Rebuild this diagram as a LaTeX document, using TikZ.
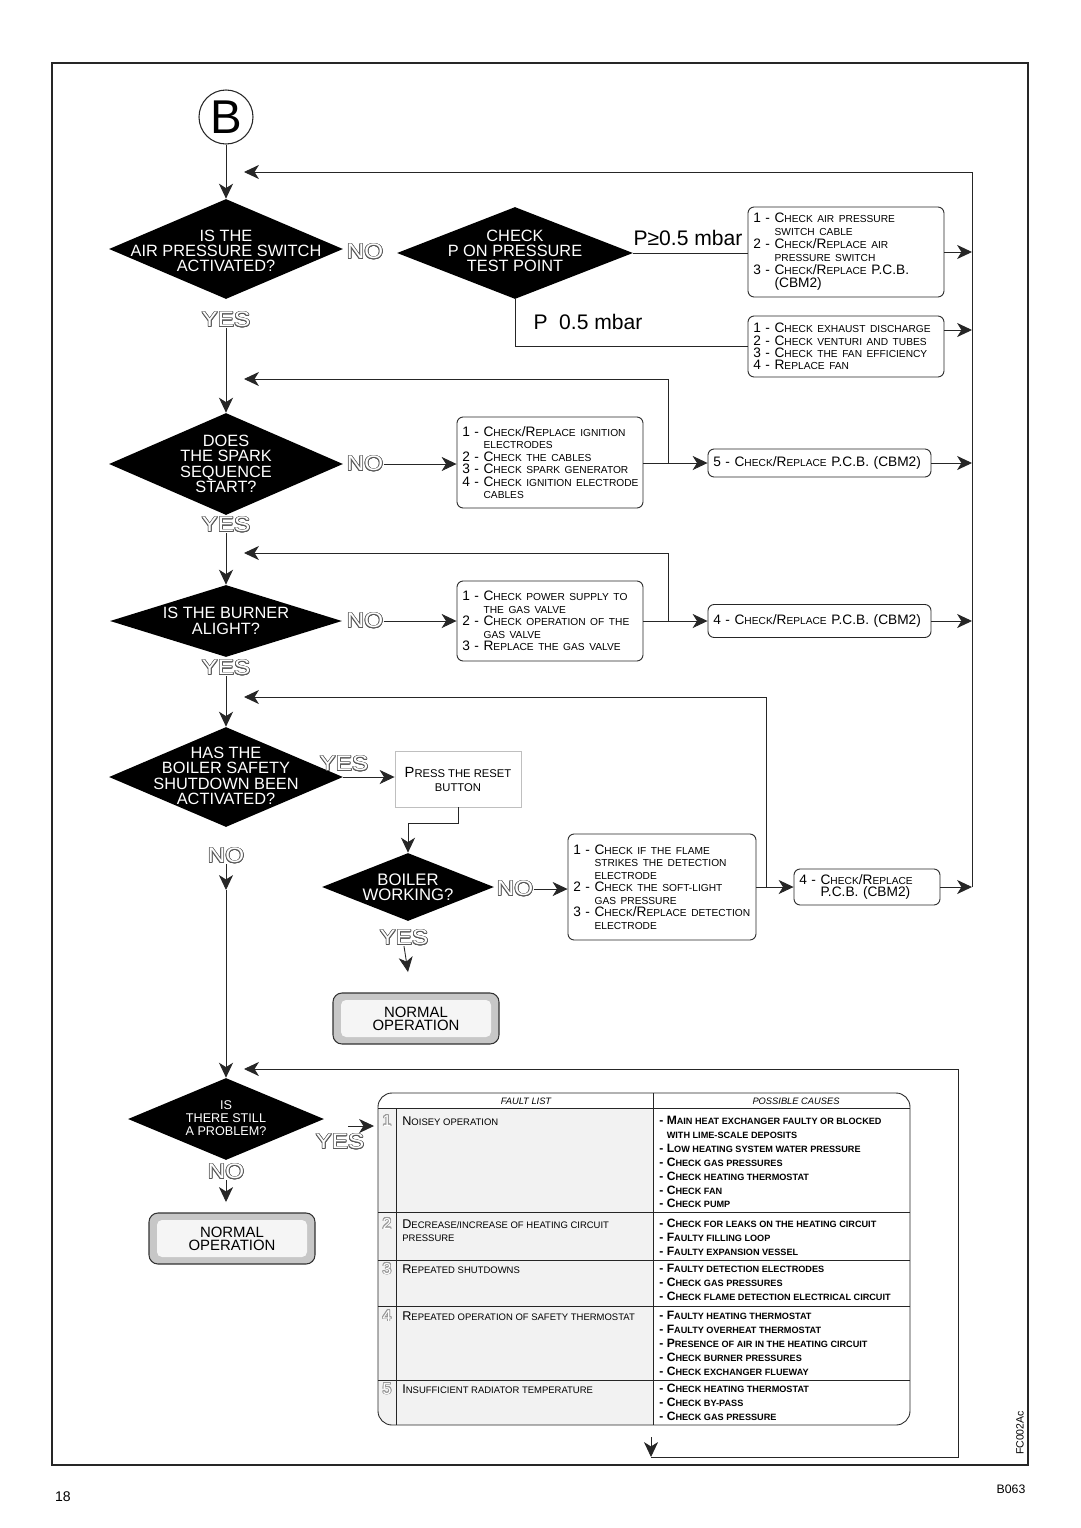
\documentclass[tikz,border=0pt]{standalone}
\usepackage{fontspec}
\setmainfont{Liberation Sans}
\newfontfamily\widefont[FakeStretch=1.15]{Liberation Sans}
\usepackage{contour}
\contourlength{0.4pt}
\usetikzlibrary{shapes.geometric,arrows.meta,calc}
\def\u{0.02cm}
\def\smsz{5.8}
\newcommand\sm[1]{{\fontsize{\smsz}{\smsz}\selectfont #1}}
\newcommand\ind{\phantom{1 - }}
\newcommand\hol[2][black!65]{{\color{white}\contour{#1}{#2}}}
\begin{document}
\begin{tikzpicture}[x=0.02cm,y=-0.02cm,
  ln/.style={draw=black!85, line width=0.5pt},
  arr/.style={ln, -{Stealth[length=8.5pt,width=8pt,inset=2.5pt]}},
  dia/.style={diamond, fill=black, inner sep=0pt},
  dtx/.style={text=white, align=center, inner sep=0pt, font=\fontsize{9.3}{8.7}\selectfont},
  yn/.style={inner sep=0pt, font=\widefont\fontsize{12}{12}\selectfont},
  box/.style={draw=black!85, line width=0.5pt, rounded corners=3.5pt, align=left, inner sep=3pt,
    font=\fontsize{7.8}{7.1}\selectfont\def\smsz{5.8}},
  norm/.style={draw=black!80, line width=0.6pt, fill=black!22, rounded corners=0.18cm, align=center,
    font=\fontsize{8.5}{7.5}\selectfont,
    path picture={\fill[black!4, rounded corners=0.1cm]
      ([xshift=0.16cm,yshift=-0.14cm]path picture bounding box.north west) rectangle
      ([xshift=-0.16cm,yshift=0.14cm]path picture bounding box.south east);}},
  ft/.style={anchor=north west, inner sep=0pt, align=left, font=\fontsize{7.2}{7.9}\selectfont\def\smsz{5.4}},
  fc/.style={anchor=north west, inner sep=0pt, align=left, font=\bfseries\fontsize{6.9}{7.9}\selectfont\def\smsz{5.2}},
  num/.style={inner sep=0pt, font=\fontsize{9}{9}\selectfont},
  hd/.style={inner sep=0pt, font=\itshape\fontsize{5.3}{6}\selectfont}
]
\useasboundingbox (0,0) rectangle (1080,1528);
\fill[white] (0,0) rectangle (1080,1528);
% frame
\draw[line width=0.8pt, black!85] (52,63) rectangle (1028,1465);

% start
\node[circle, draw=black!85, line width=0.6pt, minimum size=54*\u, inner sep=0pt, font=\fontsize{27}{27}\selectfont] (b) at (226,117) {B};

% diamonds
\node[dia, minimum width=234*\u, minimum height=100*\u] (d1) at (226,249) {};
\node[dtx] (d1t) at (226,251) {IS THE\\AIR PRESSURE SWITCH\\ACTIVATED?};
\node[dia, minimum width=236*\u, minimum height=92*\u] (d2) at (515,253) {};
\node[dtx] (d2t) at (515,251) {CHECK\\P ON PRESSURE\\TEST POINT};
\node[dia, minimum width=234*\u, minimum height=102*\u] (d3) at (226,464) {};
\node[dtx] (d3t) at (226,464) {DOES\\THE SPARK\\SEQUENCE\\START?};
\node[dia, minimum width=232*\u, minimum height=72*\u] (d4) at (226,621) {};
\node[dtx] (d4t) at (226,621) {IS THE BURNER\\ALIGHT?};
\node[dia, minimum width=234*\u, minimum height=100*\u] (d5) at (226,777) {};
\node[dtx] (d5t) at (226,776) {HAS THE\\BOILER SAFETY\\SHUTDOWN BEEN\\ACTIVATED?};
\node[dia, minimum width=172*\u, minimum height=68*\u] (d6) at (408,887) {};
\node[dtx, font=\fontsize{9.5}{8.7}\selectfont] (d6t) at (408,887) {BOILER\\WORKING?};
\node[dia, minimum width=196*\u, minimum height=82*\u] (d7) at (226,1119) {};
\node[dtx, font=\fontsize{7.2}{7.4}\selectfont] (d7t) at (226,1118) {IS\\THERE STILL\\A PROBLEM?};

% yes / no
\node[yn] (no1) at (365,252) {\hol{NO}};
\node[yn] (yes1) at (226,320) {\hol{YES}};
\node[yn] (no3) at (365,464) {\hol{NO}};
\node[yn] (yes3) at (226,525) {\hol{YES}};
\node[yn] (no4) at (365,621) {\hol{NO}};
\node[yn] (yes4) at (226,668) {\hol{YES}};
\node[yn] (yes5) at (344,764) {\hol{YES}};
\node[yn] (no5) at (226,856) {\hol{NO}};
\node[yn] (no6) at (515,889) {\hol{NO}};
\node[yn] (yes6) at (404,938) {\hol{YES}};
\node[yn] (yes7) at (340,1142) {\hol{YES}};
\node[yn] (no7) at (226,1172) {\hol{NO}};

% pressure labels
\node[inner sep=0pt, font=\fontsize{12}{12}\selectfont] (pge) at (688,238) {P≥0.5 mbar};
\node[inner sep=0pt, font=\fontsize{12}{12}\selectfont] (ple) at (588,322) {P\phantom{≥}0.5 mbar};

% boxes
\node[box, font=\fontsize{7.8}{7.4}\selectfont, minimum width=196*\u, minimum height=90*\u, text width=196*\u-6pt] (b1) at (846,252) {%
\mbox{1 - C\sm{HECK AIR PRESSURE}}\\ \mbox{\ind\sm{SWITCH CABLE}}\\ \mbox{2 - C\sm{HECK}/R\sm{EPLACE AIR}}\\ \mbox{\ind\sm{PRESSURE SWITCH}}\\ \mbox{3 - C\sm{HECK}/R\sm{EPLACE} P.C.B.}\\ \mbox{\ind(CBM2)}};
\node[box, minimum width=196*\u, minimum height=61*\u, text width=196*\u-6pt] (b2) at (846,346.5) {%
\mbox{1 - C\sm{HECK EXHAUST DISCHARGE}}\\ \mbox{2 - C\sm{HECK VENTURI AND TUBES}}\\ \mbox{3 - C\sm{HECK THE FAN EFFICIENCY}}\\ \mbox{4 - R\sm{EPLACE FAN}}};
\node[box, minimum width=186*\u, minimum height=91*\u, text width=186*\u-6pt] (b3) at (550,462.5) {%
\mbox{1 - C\sm{HECK}/R\sm{EPLACE IGNITION}}\\ \mbox{\ind\sm{ELECTRODES}}\\ \mbox{2 - C\sm{HECK THE CABLES}}\\ \mbox{3 - C\sm{HECK SPARK GENERATOR}}\\ \mbox{4 - C\sm{HECK IGNITION ELECTRODE}}\\ \mbox{\ind\sm{CABLES}}};
\node[box, minimum width=223*\u, minimum height=28*\u, text width=223*\u-6pt] (b5) at (819.5,463) {%
\mbox{5 - C\sm{HECK}/R\sm{EPLACE} P.C.B. (CBM2)}};
\node[box, minimum width=186*\u, minimum height=80*\u, text width=186*\u-6pt] (b6) at (550,621) {%
\mbox{1 - C\sm{HECK POWER SUPPLY TO}}\\ \mbox{\ind\sm{THE GAS VALVE}}\\ \mbox{2 - C\sm{HECK OPERATION OF THE}}\\ \mbox{\ind\sm{GAS VALVE}}\\ \mbox{3 - R\sm{EPLACE THE GAS VALVE}}};
\node[box, minimum width=223*\u, minimum height=33*\u, text width=223*\u-6pt] (b7) at (819.5,621) {%
\mbox{4 - C\sm{HECK}/R\sm{EPLACE} P.C.B. (CBM2)}};
\node[box, rounded corners=0pt, draw=black!25, minimum width=126*\u, minimum height=56*\u, align=center,
  font=\fontsize{8.4}{8}\selectfont\def\smsz{6.4}] (press) at (458,779) {%
P\sm{RESS THE RESET}\\ \sm{BUTTON}};
\node[box, minimum width=188*\u, minimum height=106*\u, text width=188*\u-6pt] (b8) at (662,887) {%
\mbox{1 - C\sm{HECK IF THE FLAME}}\\ \mbox{\ind\sm{STRIKES THE DETECTION}}\\ \mbox{\ind\sm{ELECTRODE}}\\ \mbox{2 - C\sm{HECK THE SOFT-LIGHT}}\\ \mbox{\ind\sm{GAS PRESSURE}}\\ \mbox{3 - C\sm{HECK}/R\sm{EPLACE DETECTION}}\\ \mbox{\ind\sm{ELECTRODE}}\\[6pt]};
\node[box, minimum width=146*\u, minimum height=36*\u, text width=146*\u-6pt] (b9) at (867,887) {%
\mbox{4 - C\sm{HECK}/R\sm{EPLACE}}\\ \mbox{\ind P.C.B. (CBM2)}};
\node[norm, minimum width=166*\u, minimum height=51*\u] (n1) at (416,1018.5) {NORMAL\\OPERATION};
\node[norm, minimum width=166*\u, minimum height=51*\u] (n2) at (232,1238.5) {NORMAL\\OPERATION};

% coordinates of loop lines
\coordinate (rtop) at (972,172);
\coordinate (rbot) at (972,887);
\coordinate (t1) at (244,172);
\coordinate (t3) at (244,379);
\coordinate (t4) at (244,553);
\coordinate (t5) at (244,697);
\coordinate (t7) at (244,1069);
\coordinate (j3) at (668,463);
\coordinate (j4) at (668,621);
\coordinate (j5) at (766,887);
\coordinate (a2) at (972,330);
\coordinate (m5) at (226,890);
\coordinate (e6) at (408,972);
\coordinate (e7) at (226,1202);
\coordinate (y7a) at (348,1126);
\coordinate (y7b) at (374,1126);
\coordinate (tb) at (651,1437);
\coordinate (lb) at (651,1457);
\coordinate (rb) at (958,1457);

% main flow
\draw[arr] (b.south) -- (d1.north);
\draw[arr] (yes1.south) -- (d3.north);
\draw[ln] (d2.east) -- (d2.east -| b1.west);
\draw[ln] (d2.south) |- (b2.west);
\draw[arr] (b1.east) -- (b1.east -| rtop);
\draw[arr] (b2.east |- a2) -- (a2);
\draw[arr] (rbot) |- (t1);

\draw[arr] (no3.east) -- (no3.east -| b3.west);
\draw[arr] (b3.east |- b5.west) -- (b5.west);
\draw[arr] (j3) |- (t3);
\draw[arr] (b5.east) -- (b5.east -| rtop);

\draw[arr] (yes3.south) -- (d4.north);
\draw[arr] (no4.east) -- (no4.east -| b6.west);
\draw[arr] (b6.east |- b7.west) -- (b7.west);
\draw[arr] (j4) |- (t4);
\draw[arr] (b7.east) -- (b7.east -| rtop);

\draw[arr] (yes4.south) -- (d5.north);
\draw[arr] (d5.east) -- (d5.east -| press.west);
\draw[arr] (press.south) -- ++(0,16) -| (d6.north);
\draw[arr] (no6.east) -- (no6.east -| b8.west);
\draw[arr] (b8.east |- b9.west) -- (b9.west);
\draw[arr] (j5) |- (t5);
\draw[arr] (b9.east) -- (b9.east -| rtop);
\draw[arr] (yes6.south) -- (e6);

\draw[arr] (no5.south) -- (m5);
\draw[arr] (m5) -- (d7.north);
\draw[arr] (no7.south) -- (e7);
\draw[arr] (y7a) -- (y7b);

% fault table
\begin{scope}
\clip[rounded corners=0.28cm] (378,1093) rectangle (910,1425);
\fill[black!5] (378,1108) rectangle (653,1425);
\end{scope}
\draw[ln, rounded corners=0.28cm] (378,1093) rectangle (910,1425);
\draw[ln] (378,1108) -- (910,1108);
\foreach \yy in {1212,1260,1306,1380} \draw[ln] (378,\yy) -- (910,\yy);
\draw[ln] (653,1093) -- (653,1425);
\draw[ln] (396,1108) -- (396,1425);
\node[hd] (h1) at (526,1101) {FAULT LIST};
\node[hd] (h2) at (796,1101) {POSSIBLE CAUSES};

\node[num] (k1) at (387,1121) {\hol[black!40]{1}};
\node[num] (k2) at (387,1224) {\hol[black!40]{2}};
\node[num] (k3) at (387,1269) {\hol[black!40]{3}};
\node[num] (k4) at (387,1316) {\hol[black!40]{4}};
\node[num] (k5) at (387,1389) {\hol[black!40]{5}};

\node[ft] (f1) at (402,1116) {N\sm{OISEY OPERATION}};
\node[ft] (f2) at (402,1219) {D\sm{ECREASE/INCREASE OF HEATING CIRCUIT}\\\sm{PRESSURE}};
\node[ft] (f3) at (402,1264) {R\sm{EPEATED SHUTDOWNS}};
\node[ft] (f4) at (402,1311) {R\sm{EPEATED OPERATION OF SAFETY THERMOSTAT}};
\node[ft] (f5) at (402,1384) {I\sm{NSUFFICIENT RADIATOR TEMPERATURE}};

\node[fc] (c1) at (659,1116) {- M\sm{AIN HEAT EXCHANGER FAULTY OR BLOCKED}\\ \phantom{- }\sm{WITH LIME-SCALE DEPOSITS}\\ - L\sm{OW HEATING SYSTEM WATER PRESSURE}\\ - C\sm{HECK GAS PRESSURES}\\ - C\sm{HECK HEATING THERMOSTAT}\\ - C\sm{HECK FAN}\\ - C\sm{HECK PUMP}};
\node[fc] (c2) at (659,1219) {- C\sm{HECK FOR LEAKS ON THE HEATING CIRCUIT}\\ - F\sm{AULTY FILLING LOOP}\\ - F\sm{AULTY EXPANSION VESSEL}};
\node[fc] (c3) at (659,1264) {- F\sm{AULTY DETECTION ELECTRODES}\\ - C\sm{HECK GAS PRESSURES}\\ - C\sm{HECK FLAME DETECTION ELECTRICAL CIRCUIT}};
\node[fc] (c4) at (659,1311) {- F\sm{AULTY HEATING THERMOSTAT}\\ - F\sm{AULTY OVERHEAT THERMOSTAT}\\ - P\sm{RESENCE OF AIR IN THE HEATING CIRCUIT}\\ - C\sm{HECK BURNER PRESSURES}\\ - C\sm{HECK EXCHANGER FLUEWAY}};
\node[fc] (c5) at (659,1384) {- C\sm{HECK HEATING THERMOSTAT}\\ - C\sm{HECK BY-PASS}\\ - C\sm{HECK GAS PRESSURE}};

% bottom loop
\draw[arr] (tb) -- (lb);
\draw[arr] (lb) -- (rb) |- (t7);

% page marks
\node[inner sep=0pt, font=\fontsize{8}{8}\selectfont] (pg) at (63,1497) {18};
\node[inner sep=0pt, font=\fontsize{7}{7}\selectfont] (code1) at (1011,1489) {B063};
\node[inner sep=0pt, rotate=90, font=\fontsize{6}{6}\selectfont] (code2) at (1020,1433) {FC002Ac};
\end{tikzpicture}
\end{document}
